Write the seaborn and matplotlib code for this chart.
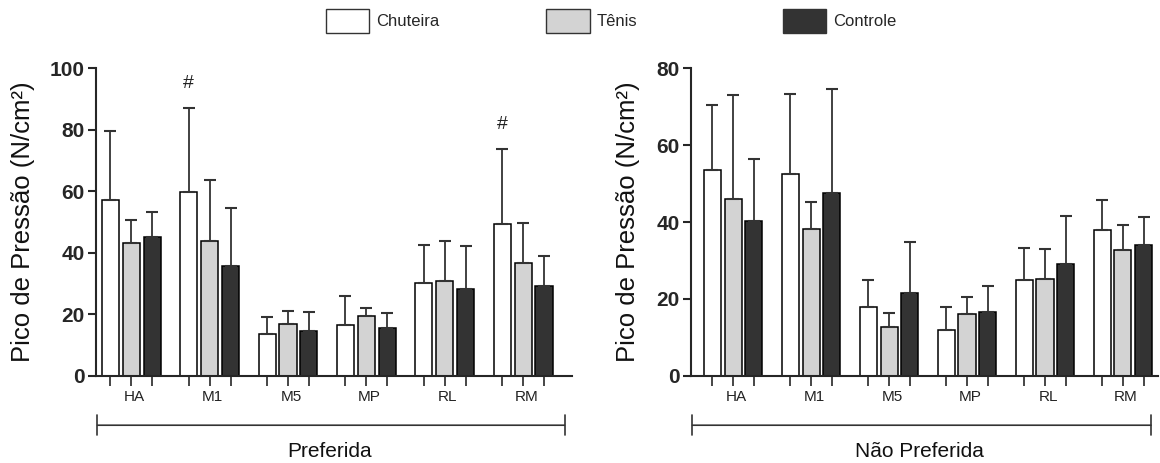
import pandas as pd
import matplotlib
matplotlib.use('Agg')
import matplotlib.pyplot as plt
from matplotlib.patches import Patch
import seaborn as sns

# Regions of the foot and shoe conditions
regioes = ['HA', 'M1', 'M5', 'MP', 'RL', 'RM']
calcados = ['Chuteira', 'Tênis', 'Controle']

# Preferida (mean and SD)
pref_chuteira = [57.1, 59.8, 13.6, 16.6, 30.2, 49.4]
pref_chuteira_sd = [22.5, 27.3, 5.4, 9.5, 12.2, 24.3]
pref_tenis = [43.2, 43.9, 16.8, 19.5, 31.0, 36.8]
pref_tenis_sd = [7.3, 19.6, 4.2, 2.6, 12.7, 12.9]
pref_controle = [45.0, 35.6, 14.6, 15.5, 28.3, 29.3]
pref_controle_sd = [8.4, 19.1, 6.3, 5.1, 13.9, 9.8]
pref_marcas = ['', '#', '', '', '', '#']  # on Chuteira bars

# Nao preferida (mean and SD)
nao_chuteira = [53.4, 52.5, 18.0, 11.9, 25.0, 38.0]
nao_chuteira_sd = [17.1, 20.7, 7.0, 5.9, 8.2, 7.6]
nao_tenis = [46.1, 38.2, 12.7, 16.1, 25.1, 32.6]
nao_tenis_sd = [26.8, 7.1, 3.6, 4.3, 7.8, 6.7]
nao_controle = [40.3, 47.6, 21.6, 16.5, 29.2, 33.9]
nao_controle_sd = [16.1, 26.9, 13.1, 6.9, 12.3, 7.5]
nao_marcas = ['', '', '', '', '', '']

cores = ['white', '#d3d3d3', '#333333']

sns.set_style('ticks')
plt.rcParams['font.family'] = ['Liberation Sans', 'DejaVu Sans']


def make_df(ch, te, co):
    rows = []
    for nome, vals in zip(calcados, [ch, te, co]):
        for r, v in zip(regioes, vals):
            rows.append({'regiao': r, 'calcado': nome, 'pico': v})
    return pd.DataFrame(rows)


def painel(ax, df, sds, marcas, ymax, xlim, titulo, ylab_x):
    sns.barplot(data=df, x='regiao', y='pico', hue='calcado', hue_order=calcados,
                palette=cores, edgecolor='black', linewidth=1.1, errorbar=None,
                gap=0.18, legend=False, ax=ax)
    centros = []
    for cont, sd_list in zip(ax.containers, sds):
        for bar, sd in zip(cont, sd_list):
            x = bar.get_x() + bar.get_width() / 2
            h = bar.get_height()
            centros.append(x)
            ax.errorbar(x, h, yerr=[[0], [sd]], fmt='none', ecolor='#333333',
                        elinewidth=1.3, capsize=4.5, capthick=1.5, zorder=1)
    # significance marks on Chuteira bars
    for bar, sd, m in zip(ax.containers[0], sds[0], marcas):
        if m:
            x = bar.get_x() + bar.get_width() / 2
            ax.text(x, bar.get_height() + sd + ymax * 0.08, m, ha='center',
                    va='center', fontsize=14, color='#222222')

    ax.set_ylim(0, ymax)
    ax.set_yticks(range(0, ymax + 1, 20))
    ax.set_xlim(*xlim)
    ax.xaxis.remove_overlapping_locs = False
    ax.set_xticks(sorted(centros))
    ax.set_xticklabels([])
    ax.set_xticks([i + 0.04 for i in range(len(regioes))], minor=True)
    ax.set_xticklabels(regioes, minor=True, fontsize=11, color='#222222')
    ax.tick_params(axis='x', which='major', length=7, width=1.2, direction='out')
    ax.tick_params(axis='x', which='minor', length=0, pad=10)
    ax.tick_params(axis='y', length=6, width=1.5, direction='out', pad=2)
    for lab in ax.get_yticklabels():
        lab.set_fontweight('bold')
        lab.set_fontsize(15)
    sns.despine(ax=ax)
    for s in ['left', 'bottom']:
        ax.spines[s].set_linewidth(1.5)
    ax.set_xlabel('')
    ax.set_ylabel('Pico de Pressão (N/cm²)', fontsize=18.5, color='#111111')
    ax.yaxis.set_label_coords(ylab_x, 0.5)

    ax.annotate('', xy=(0.003, -0.16), xytext=(0.985, -0.16), xycoords='axes fraction',
                arrowprops=dict(arrowstyle='|-|, widthA=0.35, widthB=0.35',
                                lw=1.2, color='#333333', mutation_scale=20,
                                shrinkA=0, shrinkB=0))
    ax.text(0.49, -0.245, titulo, transform=ax.transAxes, ha='center',
            va='center', fontsize=15, color='#111111')


fig = plt.figure(figsize=(11.6, 4.63), dpi=100)
ax1 = fig.add_axes([0.0828, 0.188, 0.410, 0.665])
ax2 = fig.add_axes([0.5957, 0.188, 0.4026, 0.665])

painel(ax1, make_df(pref_chuteira, pref_tenis, pref_controle),
       [pref_chuteira_sd, pref_tenis_sd, pref_controle_sd], pref_marcas, 100,
       (-0.45, 5.62), 'Preferida', -0.128)
painel(ax2, make_df(nao_chuteira, nao_tenis, nao_controle),
       [nao_chuteira_sd, nao_tenis_sd, nao_controle_sd], nao_marcas, 80,
       (-0.54, 5.45), 'Não Preferida', -0.109)

# legend entries placed individually along the top
posicoes = [0.281, 0.471, 0.675]
for nome, cor, px in zip(calcados, cores, posicoes):
    h = Patch(facecolor=cor, edgecolor='#333333', linewidth=1.0, label=nome)
    fig.legend(handles=[h], loc='center left', bbox_to_anchor=(px, 0.955),
               frameon=False, fontsize=12, handlelength=2.6, handleheight=1.9,
               handletextpad=0.4, borderpad=0, borderaxespad=0)

fig.savefig('out.png', dpi=100)
